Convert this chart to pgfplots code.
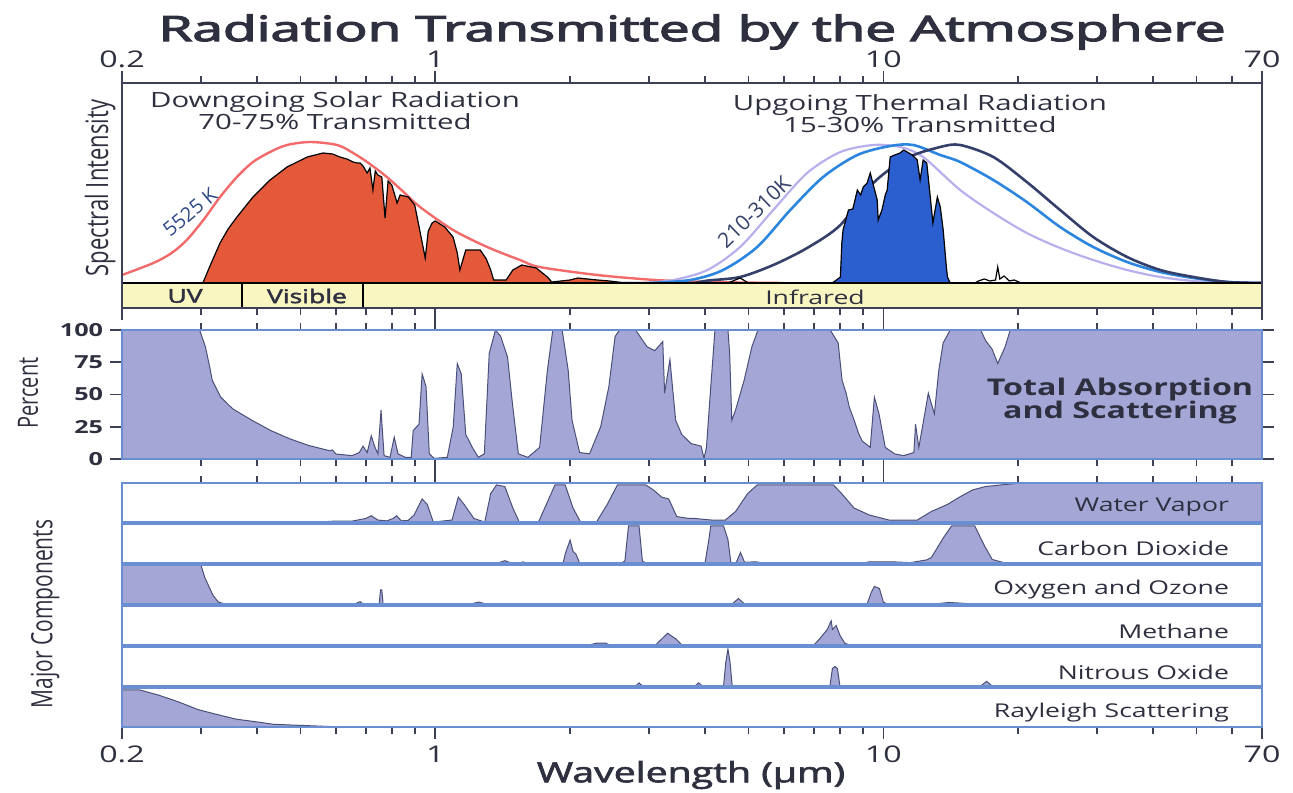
\documentclass[border=0pt]{standalone}
\usepackage{pgfplots}
\pgfplotsset{compat=1.18}
\usepackage{fontspec}
\setmainfont{Open Sans}
\newfontfamily\semib{Open Sans}[FakeBold=2]
\newfontfamily\semibb{Open Sans}[FakeBold=3]
\usepackage{graphicx}
\definecolor{absfill}{HTML}{A4A7D6}
\definecolor{absline}{HTML}{4B5078}
\definecolor{stripblue}{HTML}{6A8ED2}
\definecolor{axgray}{HTML}{3C4155}
\definecolor{solar}{HTML}{E3593A}
\definecolor{redbb}{HTML}{F26A6A}
\definecolor{lav}{HTML}{B8B0EC}
\definecolor{midblue}{HTML}{2C86DF}
\definecolor{navy}{HTML}{34406A}
\definecolor{lblblue}{HTML}{2F4A8A}
\definecolor{bluefill}{HTML}{2B5FCF}
\definecolor{bandyel}{HTML}{FAF6C2}
\definecolor{txt}{HTML}{2E3040}
\newcommand{\sx}[1]{\scalebox{1.4}[1]{#1}}
\newcommand{\fsz}[1]{\fontsize{#1}{#1}\selectfont}
\begin{document}
\begin{tikzpicture}
\path[use as bounding box] (0,0) rectangle (646.5pt,-396pt);
% ---------------- top panel: spectral intensity
\begin{axis}[xmode=log, xmin=0.2, xmax=70, width=570pt, scale only axis, axis on top,
  at={(61pt,-41.5pt)}, anchor=north west, height=112.5pt,
  ymin=-0.125, ymax=1, ytick=\empty,
  axis line style={draw=axgray, line width=0.8pt},
  tick align=outside, major tick length=6pt, minor tick length=3.5pt,
  tick style={draw=axgray, line width=0.8pt},
  xtick={0.2,1,10,70}, xticklabels={\sx{0.2},\sx{1},\sx{10},\sx{70}},
  minor xtick={0.3,0.4,0.5,0.6,0.7,0.8,0.9,2,3,4,5,6,7,8,9,20,30,40,50,60},
  xticklabel style={font=\fsz{11.5}, text=txt, yshift=-2pt},
  xticklabel pos=upper]
\addplot[redbb, line width=1.2pt, smooth] coordinates {
(0.2,0.04) (0.235,0.10) (0.258,0.15) (0.279,0.215) (0.305,0.32) (0.331,0.43) (0.361,0.53) (0.392,0.605) (0.428,0.655) (0.467,0.69) (0.526,0.705) (0.604,0.69) (0.656,0.65) (0.715,0.595) (0.78,0.53) (0.85,0.455) (0.925,0.38) (1.096,0.265) (1.306,0.18) (1.546,0.115) (1.71,0.08) (2.3,0.04) (3.1,0.015) (4,0.006) (5,0.002) (6,0)};
\addplot[fill=solar, draw=black, line width=0.6pt] coordinates {
(0.303,0) (0.315,0.09) (0.331,0.20) (0.345,0.27) (0.361,0.33) (0.392,0.43) (0.428,0.515) (0.467,0.58) (0.518,0.63) (0.562,0.65) (0.59,0.645) (0.613,0.63) (0.635,0.62) (0.656,0.605) (0.67,0.60) (0.68,0.60) (0.69,0.585) (0.705,0.55) (0.715,0.575) (0.726,0.465) (0.735,0.56) (0.745,0.54) (0.760,0.53) (0.773,0.325) (0.785,0.51) (0.80,0.49) (0.822,0.40) (0.835,0.44) (0.871,0.43) (0.90,0.39) (0.95,0.125) (0.965,0.26) (0.984,0.30) (1.0,0.31) (1.05,0.28) (1.096,0.23) (1.12,0.15) (1.135,0.065) (1.17,0.165) (1.26,0.165) (1.30,0.12) (1.33,0.065) (1.35,0.015) (1.44,0.015) (1.49,0.065) (1.56,0.09) (1.68,0.075) (1.78,0.03) (1.82,0.005) (2.0,0.015) (2.08,0.025) (2.3,0.015) (2.45,0.01) (2.6,0.003) (3.0,0.002) (3.5,0.004) (4.0,0.002) (4.5,0)} \closedcycle;
\addplot[lav, line width=1.1pt, smooth] coordinates {
(2.9,0) (3.40,0.015) (4.05,0.065) (4.79,0.18) (5.68,0.365) (6.76,0.55) (8.02,0.655) (9.5,0.69) (10.9,0.68) (12.27,0.63) (14.84,0.465) (17.6,0.35) (20.9,0.25) (24.8,0.175) (29.4,0.115) (35.0,0.065) (41.5,0.03) (49.2,0.01) (58.6,0.002) (70,0)};
\addplot[midblue, line width=1.3pt, smooth] coordinates {
(3.0,0) (3.71,0.015) (4.39,0.065) (5.23,0.18) (6.20,0.365) (7.34,0.53) (8.75,0.64) (10.36,0.685) (11.66,0.69) (13.4,0.64) (14.84,0.605) (17.6,0.515) (20.9,0.405) (24.8,0.28) (29.4,0.18) (35.0,0.105) (41.5,0.055) (49.2,0.025) (58.6,0.005) (70,0)};
\addplot[navy, line width=1.3pt, smooth] coordinates {
(3.8,0) (4.05,0.012) (4.79,0.03) (5.68,0.09) (6.76,0.175) (8.02,0.29) (9.5,0.50) (11.3,0.625) (13.4,0.68) (14.84,0.69) (17.6,0.63) (20.9,0.505) (24.8,0.365) (29.4,0.23) (35.0,0.13) (41.5,0.065) (49.2,0.03) (58.6,0.005) (70,0)};
\addplot[fill=bluefill, draw=black, line width=0.6pt] coordinates {
(7.6,0) (7.73,0.003) (8.02,0.03) (8.08,0.20) (8.13,0.265) (8.36,0.365) (8.55,0.37) (8.75,0.465) (8.9,0.44) (9.02,0.48) (9.2,0.50) (9.35,0.55) (9.5,0.49) (9.69,0.415) (9.74,0.315) (9.93,0.365) (10.1,0.44) (10.2,0.465) (10.36,0.63) (10.6,0.64) (10.9,0.65) (11.1,0.665) (11.3,0.655) (11.6,0.64) (11.9,0.615) (12.08,0.515) (12.27,0.615) (12.5,0.60) (12.7,0.45) (12.9,0.30) (13.2,0.43) (13.4,0.38) (13.6,0.265) (13.8,0.10) (13.9,0.03) (14.1,0)} \closedcycle;
\addplot[black, line width=0.6pt] coordinates {
(4.5,0) (4.79,0.025) (5.0,0) (16.0,0) (16.3,0.01) (16.8,0.02) (17.3,0.01) (17.8,0.015) (18.0,0.08) (18.2,0.02) (18.6,0.035) (19.1,0.01) (19.6,0.015) (20.3,0)};
\draw[black, line width=0.8pt, fill=bandyel] (axis cs:0.2,-0.125) rectangle (axis cs:0.37,0);
\draw[black, line width=0.8pt, fill=bandyel] (axis cs:0.37,-0.125) rectangle (axis cs:0.69,0);
\draw[black, line width=0.8pt, fill=bandyel] (axis cs:0.69,-0.125) rectangle (axis cs:70,0);
\end{axis}
% ---------------- middle panel: total absorption
\begin{axis}[xmode=log, xmin=0.2, xmax=70, width=570pt, scale only axis, axis on top,
  at={(61pt,-165pt)}, anchor=north west, height=64.5pt,
  ymin=0, ymax=100, ytick={0,25,50,75,100},
  yticklabels={\sx{0},\sx{25},\sx{50},\sx{75},\sx{100}},
  yticklabel pos=lower,
  yticklabel style={font=\fsz{9}\bfseries, text=txt},
  axis line style={draw=stripblue, line width=0.9pt},
  tick align=outside, major tick length=6pt, minor tick length=3.5pt,
  tick style={draw=axgray, line width=0.8pt},
  xtick={1,10}, xticklabels={},
  minor xtick={0.3,0.4,0.5,0.6,0.7,0.8,0.9,2,3,4,5,6,7,8,9,20,30,40,50,60}]
\addplot[fill=absfill, draw=absline, line width=0.5pt] coordinates {
(0.2,100) (0.298,100) (0.307,87) (0.314,71) (0.318,61) (0.332,48) (0.353,39) (0.39,30) (0.43,22) (0.474,15.6) (0.523,10.4) (0.58,6.5) (0.59,7) (0.60,3.9) (0.652,2.6) (0.677,5) (0.69,10) (0.705,5) (0.72,18) (0.734,9) (0.745,4) (0.757,38) (0.769,2.6) (0.793,1.3) (0.81,17) (0.826,4) (0.857,1.3) (0.884,1.3) (0.893,22) (0.92,27) (0.935,66) (0.954,56) (0.97,4) (0.995,0.5) (1.064,1.3) (1.097,25) (1.12,74) (1.143,66) (1.17,19) (1.21,9) (1.248,1.3) (1.287,4) (1.32,82) (1.363,100) (1.40,95) (1.45,79) (1.487,43) (1.533,4) (1.61,1.3) (1.71,9) (1.78,69) (1.83,100) (1.92,100) (1.98,69) (2.02,30) (2.10,5) (2.21,4) (2.34,25) (2.44,56) (2.52,95) (2.58,100) (2.80,100) (2.97,87) (3.09,84) (3.22,91) (3.25,51) (3.34,77) (3.44,30) (3.55,19) (3.72,12) (3.92,10) (3.98,0.5) (4.03,9) (4.12,56) (4.21,100) (4.5,100) (4.54,82) (4.59,30) (4.68,38) (4.89,61) (5.09,87) (5.25,100) (7.61,100) (7.93,90) (8.09,61) (8.26,51) (8.4,40) (8.61,30) (8.8,20) (8.97,14) (9.35,9) (9.55,48) (9.78,35) (10.1,9) (10.6,4) (11.1,2.6) (11.7,5) (11.8,27) (12.0,9) (12.3,30) (12.6,51) (13.0,35) (13.3,69) (13.6,90) (14.1,100) (16.5,100) (16.9,92) (17.5,85) (18.0,74) (18.7,87) (19.2,100) (70,100)} \closedcycle;
\end{axis}
% ---------------- strips
\begin{axis}[xmode=log, xmin=0.2, xmax=70, width=570pt, scale only axis, axis on top,
  at={(61pt,-241.5pt)}, anchor=north west, height=19.5pt, ymin=0, ymax=100, ytick=\empty,
  axis line style={draw=stripblue, line width=0.9pt},
  tick align=outside, major tick length=6pt, minor tick length=3.5pt,
  tick style={draw=axgray, line width=0.8pt},
  xtick={1,10}, xticklabels={},
  minor xtick={0.3,0.4,0.5,0.6,0.7,0.8,0.9,2,3,4,5,6,7,8,9,20,30,40,50,60}, xtick pos=upper]
\addplot[fill=absfill, draw=absline, line width=0.5pt] coordinates {
(0.2,0) (0.55,0) (0.589,2) (0.65,2) (0.70,9) (0.72,16) (0.745,5) (0.78,3) (0.805,9) (0.82,16) (0.84,3) (0.87,4) (0.897,18) (0.935,59) (0.96,45) (0.99,0) (1.09,5) (1.126,64) (1.16,45) (1.22,9) (1.29,0) (1.33,73) (1.37,95) (1.43,91) (1.49,36) (1.54,0) (1.70,0) (1.77,45) (1.85,95) (1.95,95) (2.03,36) (2.11,0) (2.29,0) (2.42,45) (2.55,95) (2.95,95) (3.07,82) (3.2,64) (3.32,59) (3.46,14) (3.68,9) (3.8,9) (4.14,5) (4.44,5) (4.68,27) (4.98,73) (5.23,95) (7.74,95) (8.07,73) (8.6,36) (9.3,18) (10.3,5) (11.9,5) (12.8,27) (13.9,45) (14.8,64) (15.8,82) (16.9,91) (18.3,95) (20.2,100) (70,100)} \closedcycle;
\end{axis}
\begin{axis}[xmode=log, xmin=0.2, xmax=70, width=570pt, scale only axis, axis on top,
  at={(61pt,-262pt)}, anchor=north west, height=19.5pt, ymin=0, ymax=100, ytick=\empty,
  axis line style={draw=stripblue, line width=0.9pt}, xtick=\empty]
\addplot[fill=absfill, draw=absline, line width=0.5pt] coordinates {
(0.2,0) (1.38,0) (1.43,6) (1.48,0) (1.55,0) (1.57,3) (1.6,0) (1.93,0) (1.95,23) (2.0,59) (2.03,30) (2.06,23) (2.1,0) (2.6,0) (2.65,5) (2.7,95) (2.85,95) (2.9,5) (2.95,0) (4.0,0) (4.08,60) (4.12,95) (4.4,95) (4.5,60) (4.57,0) (4.7,2) (4.8,27) (4.9,2) (5.2,3) (5.4,0) (9.0,0) (9.3,3) (10.5,3) (11.5,1) (12.5,8) (12.8,14) (13.6,64) (14.2,95) (16.0,95) (16.8,45) (17.5,9) (18.7,0) (70,0)} \closedcycle;
\end{axis}
\begin{axis}[xmode=log, xmin=0.2, xmax=70, width=570pt, scale only axis, axis on top,
  at={(61pt,-282.5pt)}, anchor=north west, height=19.5pt, ymin=0, ymax=100, ytick=\empty,
  axis line style={draw=stripblue, line width=0.9pt}, xtick=\empty]
\addplot[fill=absfill, draw=absline, line width=0.5pt] coordinates {
(0.2,100) (0.30,100) (0.306,68) (0.319,23) (0.328,5) (0.34,0) (0.66,0) (0.68,6) (0.69,0) (0.75,0) (0.755,36) (0.76,36) (0.765,0) (1.2,0) (1.25,5) (1.3,0) (4.6,0) (4.75,14) (4.9,0) (9.2,0) (9.4,30) (9.55,45) (9.8,40) (10.0,5) (10.2,0) (13,0) (14,4) (15,2) (16,0) (70,0)} \closedcycle;
\end{axis}
\begin{axis}[xmode=log, xmin=0.2, xmax=70, width=570pt, scale only axis, axis on top,
  at={(61pt,-303pt)}, anchor=north west, height=19.5pt, ymin=0, ymax=100, ytick=\empty,
  axis line style={draw=stripblue, line width=0.9pt}, xtick=\empty]
\addplot[fill=absfill, draw=absline, line width=0.5pt] coordinates {
(0.2,0) (2.2,0) (2.3,5) (2.4,5) (2.45,0) (3.1,0) (3.2,15) (3.3,30) (3.35,25) (3.45,15) (3.55,0) (7.0,0) (7.2,15) (7.5,40) (7.6,55) (7.65,62) (7.7,40) (7.85,50) (8.0,25) (8.2,5) (8.4,0) (70,0)} \closedcycle;
\end{axis}
\begin{axis}[xmode=log, xmin=0.2, xmax=70, width=570pt, scale only axis, axis on top,
  at={(61pt,-323.5pt)}, anchor=north west, height=19.5pt, ymin=0, ymax=100, ytick=\empty,
  axis line style={draw=stripblue, line width=0.9pt}, xtick=\empty]
\addplot[fill=absfill, draw=absline, line width=0.5pt] coordinates {
(0.2,0) (2.8,0) (2.85,8) (2.9,0) (3.8,0) (3.87,8) (3.95,0) (4.4,0) (4.45,60) (4.5,95) (4.55,60) (4.6,0) (7.6,0) (7.7,45) (7.8,50) (7.9,45) (8.0,0) (16.5,0) (17,12) (17.5,0) (70,0)} \closedcycle;
\end{axis}
\begin{axis}[xmode=log, xmin=0.2, xmax=70, width=570pt, scale only axis, axis on top,
  at={(61pt,-344pt)}, anchor=north west, height=19.5pt, ymin=0, ymax=100, ytick=\empty,
  axis line style={draw=stripblue, line width=0.9pt},
  tick align=outside, major tick length=6pt, minor tick length=3.5pt,
  tick style={draw=axgray, line width=0.8pt},
  xtick={0.2,1,10,70}, xticklabels={\sx{0.2},\sx{1},\sx{10},\sx{70}},
  xticklabel style={font=\fsz{11.5}, text=txt},
  minor xtick={0.3,0.4,0.5,0.6,0.7,0.8,0.9,2,3,4,5,6,7,8,9,20,30,40,50,60}, xtick pos=lower]
\addplot[fill=absfill, draw=absline, line width=0.5pt] coordinates {
(0.2,95) (0.219,95) (0.241,82) (0.268,64) (0.295,45) (0.326,32) (0.36,20) (0.395,14) (0.436,7) (0.48,5) (0.59,1) (0.7,0) (70,0)} \closedcycle;
\end{axis}
% ---------------- texts
\node[text=txt, font=\fsz{17.5}\semibb] at (346pt,-16pt) {\scalebox{1.57}[1]{Radiation Transmitted by the Atmosphere}};
\node[text=txt, font=\fsz{10.5}, align=center] at (167.5pt,-55.5pt) {\sx{Downgoing Solar Radiation}\\[0.5pt]\sx{70-75\% Transmitted}};
\node[text=txt, font=\fsz{10.5}, align=center] at (460pt,-57pt) {\sx{Upgoing Thermal Radiation}\\[0.5pt]\sx{15-30\% Transmitted}};
\node[text=lblblue, font=\fsz{10}, rotate=40] at (95pt,-106pt) {5525 K};
\node[text=navy, font=\fsz{10.5}, rotate=44] at (377pt,-106pt) {210-310K};
\node[text=txt, font=\fsz{9.5}\semib] at (92.5pt,-148pt) {\sx{UV}};
\node[text=txt, font=\fsz{9.5}\semib] at (153.5pt,-148pt) {\sx{Visible}};
\node[text=txt, font=\fsz{9.5}] at (407.5pt,-148.5pt) {\sx{Infrared}};
\node[text=txt, font=\fsz{11}, rotate=90] at (50pt,-94pt) {\scalebox{1}[1.4]{Spectral Intensity}};
\node[text=txt, font=\fsz{10}, rotate=90] at (14pt,-196.5pt) {\scalebox{1}[1.4]{Percent}};
\node[text=txt, font=\fsz{10.5}, rotate=90] at (22.5pt,-307pt) {\scalebox{1}[1.4]{Major Components}};
\node[text=txt, font=\fsz{11.5}\bfseries, align=center] at (560pt,-200.5pt) {\sx{Total Absorption}\\\sx{and Scattering}};
\node[text=txt, font=\fsz{9.5}, anchor=east] at (618pt,-253.5pt) {\sx{Water Vapor}};
\node[text=txt, font=\fsz{9.5}, anchor=east] at (618pt,-274pt) {\sx{Carbon Dioxide}};
\node[text=txt, font=\fsz{9.5}, anchor=east] at (618pt,-295pt) {\sx{Oxygen and Ozone}};
\node[text=txt, font=\fsz{9.5}, anchor=east] at (618pt,-315.5pt) {\sx{Methane}};
\node[text=txt, font=\fsz{9.5}, anchor=east] at (618pt,-336pt) {\sx{Nitrous Oxide}};
\node[text=txt, font=\fsz{9.5}, anchor=east] at (618pt,-356.5pt) {\sx{Rayleigh Scattering}};
\node[text=txt, font=\fsz{14}\semib] at (345.5pt,-387.5pt) {\sx{Wavelength (µm)}};
\end{tikzpicture}
\end{document}
